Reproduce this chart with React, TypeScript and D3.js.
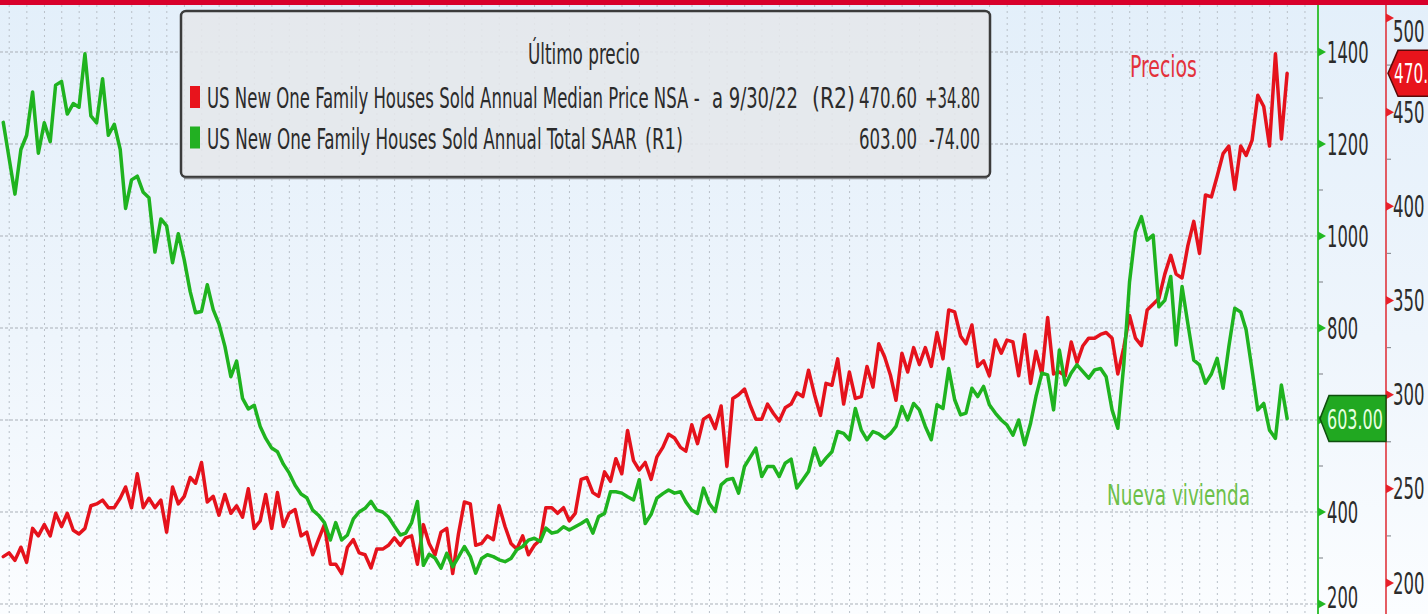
import React, { useEffect } from 'react';
import * as d3 from 'd3';

// monthly series, May 2004 .. Sep 2022 (month-end dates)
const startYear = 2004;
const startMonth = 4; // May (0-based)

// US New One Family Houses Sold Annual Total SAAR (R1), thousands
const sales = [
  1247, 1170, 1091, 1188, 1219, 1313, 1180, 1246, 1205, 1328, 1336, 1265,
  1288, 1280, 1396, 1261, 1246, 1342, 1219, 1243, 1188, 1060, 1122, 1130,
  1095, 1083, 965, 1037, 1022, 942, 1005, 948, 879, 833, 836, 894,
  840, 809, 760, 694, 728, 647, 624, 632, 586, 560, 539, 531,
  504, 485, 458, 439, 431, 404, 393, 377, 339, 377, 339, 350,
  385, 400, 408, 423, 404, 400, 389, 369, 350, 354, 377, 423,
  284, 308, 300, 278, 310, 281, 302, 325, 303, 267, 299, 307,
  303, 296, 292, 299, 318, 325, 339, 343, 336, 365, 354, 357,
  368, 361, 368, 375, 383, 354, 390, 397, 444, 444, 441, 433,
  426, 470, 375, 395, 430, 440, 448, 441, 444, 422, 404, 397,
  452, 419, 401, 459, 470, 473, 441, 499, 520, 539, 477, 499,
  499, 477, 506, 515, 452, 470, 488, 539, 502, 517, 531, 575,
  571, 557, 625, 578, 557, 575, 570, 560, 571, 586, 629, 600,
  636, 622, 586, 557, 633, 625, 712, 644, 611, 615, 669, 651,
  673, 633, 615, 600, 589, 567, 600, 546, 593, 651, 702, 698,
  622, 752, 676, 702, 720, 705, 691, 709, 712, 694, 622, 582,
  720, 900, 1009, 1042, 991, 1002, 846, 860, 912, 763, 890, 810,
  730, 720, 680, 700, 734, 669, 760, 843, 835, 796, 709, 622,
  636, 578, 560, 676, 603,
];

// US New One Family Houses Sold Annual Median Price NSA (R2), thousands
const prices = [
  214, 216, 212, 219, 211, 229, 225, 231, 225, 237, 230, 237,
  228, 226, 229, 241, 242, 244, 240, 240, 245, 251, 240, 258,
  240, 245, 240, 244, 227, 251, 242, 246, 256, 253, 264, 243,
  246, 236, 247, 237, 241, 235, 250, 229, 233, 247, 229, 248,
  230, 237, 239, 225, 227, 215, 223, 231, 210, 210, 205, 219,
  223, 216, 215, 208, 218, 218, 220, 224, 220, 224, 225, 210,
  231, 221, 215, 227, 229, 205, 226, 243, 242, 220, 221, 225,
  223, 241, 230, 221, 218, 225, 215, 220, 223, 240, 240, 237,
  240, 233, 237, 255, 256, 248, 246, 259, 254, 266, 258, 281,
  265, 260, 264, 255, 267, 272, 279, 277, 272, 270, 284, 274,
  287, 289, 282, 294, 262, 298, 300, 303, 294, 287, 287, 295,
  290, 286, 293, 295, 301, 299, 313, 300, 289, 306, 305, 319,
  295, 312, 298, 299, 315, 304, 327, 320, 310, 297, 322, 312,
  325, 316, 325, 315, 333, 319, 345, 344, 331, 327, 337, 315,
  318, 310, 329, 322, 329, 328, 310, 332, 306, 323, 311, 341,
  311, 312, 310, 328, 317, 326, 330, 330, 332, 333, 330, 311,
  325, 342, 330, 326, 345, 348, 351, 364, 374, 364, 362, 379,
  392, 375, 406, 405, 416, 428, 432, 409, 432, 427, 435, 459,
  453, 432, 481, 435.8, 470.6,
];

const salesTicks = [200, 400, 600, 800, 1000, 1200, 1400];
const salesMinor = [300, 500, 700, 900, 1100, 1300];
const priceTicks = [200, 250, 300, 350, 400, 450, 500];
const priceMinor = [225, 275, 325, 375, 425, 475];

const legendRows = [
  { color: '#e8141c', name: 'US New One Family Houses Sold Annual Median Price NSA -', nameLen: 493, extra: 'a 9/30/22', axis: '(R2)', axisX: 812, axisLen: 43, last: '470.60', chg: '+34.80', chgX: 925, chgLen: 55 },
  { color: '#22b022', name: 'US New One Family Houses Sold Annual Total SAAR', nameLen: 430, extra: '', axis: '(R1)', axisX: 645, axisLen: 38, last: '603.00', chg: '-74.00', chgX: 929, chgLen: 51 },
];

const W = 1428;
const H = 614;
const plotRight = 1318;
const redAxisX = 1386;
const font = "'DejaVu Sans Condensed', 'Liberation Sans Narrow', 'Liberation Sans', Arial, sans-serif";

const dates = sales.map((_, i) => new Date(startYear, startMonth + 1 + i, 0));

let ctx: CanvasRenderingContext2D | null = null;
function measure(text: string, size: number) {
  if (!ctx) ctx = document.createElement('canvas').getContext('2d');
  if (!ctx) return text.length * size * 0.5;
  ctx.font = `${size}px ${font}`;
  return ctx.measureText(text).width;
}

// text squeezed horizontally to a target width (condensed terminal font look)
const T = ({ x, y, len, size = 29, fill = '#2b2b2b', children }: any) => {
  const s = String(children);
  const sx = len / measure(s, size);
  return (
    <text transform={`translate(${x},${y}) scale(${sx},1)`} fontSize={size} fill={fill} fontFamily={font}>{s}</text>
  );
};

export default function App() {
  useEffect(() => {
    document.body.style.margin = '0';
    document.body.style.overflow = 'hidden';
  }, []);

  const x = d3.scaleTime()
    .domain([new Date(2004, 4, 14), new Date(2023, 2, 10)])
    .range([0, plotRight]);
  const ySales = d3.scaleLinear().domain([200, 1400]).range([604, 52]);
  const yPrice = d3.scaleLinear().domain([200, 500]).range([583, 18]);

  const salesLine = d3.line<number>()
    .x((_, i) => x(dates[i]))
    .y(d => ySales(d));
  const priceLine = d3.line<number>()
    .x((_, i) => x(dates[i]))
    .y(d => yPrice(d));

  const gridDates = x.ticks(d3.timeMonth.every(3) as any);

  const lastSales = sales[sales.length - 1];
  const lastPrice = prices[prices.length - 1];
  const gy = ySales(lastSales);
  const ry = yPrice(lastPrice);

  return (
    <svg width={W} height={H} style={{ position: 'absolute', left: 0, top: 0, display: 'block' }}>
      <defs>
        <linearGradient id="bg" x1="0" y1="0" x2="0" y2="1">
          <stop offset="0" stopColor="#e3effa" />
          <stop offset="0.55" stopColor="#eef5fc" />
          <stop offset="1" stopColor="#fbfdff" />
        </linearGradient>
        <clipPath id="plot">
          <rect x={0} y={5} width={plotRight} height={H - 5} />
        </clipPath>
      </defs>
      <rect x={0} y={0} width={W} height={H} fill="url(#bg)" />

      {/* grid */}
      <g clipPath="url(#plot)">
        {gridDates.map((d, i) => (
          <line key={'v' + i} x1={x(d)} x2={x(d)} y1={5} y2={H}
            stroke="#b9c0c8" strokeWidth={1} strokeDasharray="2,4" />
        ))}
        {salesTicks.map(t => (
          <line key={'h' + t} x1={0} x2={plotRight} y1={ySales(t)} y2={ySales(t)}
            stroke="#a9afb7" strokeWidth={1} strokeDasharray="3,2" />
        ))}
      </g>

      {/* legend box */}
      <rect x={181} y={11} width={809} height={166} rx={5} fill="#e5e7ea" fillOpacity={0.88}
        stroke="#3b3b3b" strokeWidth={2.5} />
      <line x1={184} x2={987} y1={178.5} y2={178.5} stroke="#8a8d91" strokeWidth={1.5} />
      <T x={528} y={64} len={112}>Último precio</T>
      {legendRows.map((r, i) => {
        const by = 108 + i * 40.5;
        return (
          <g key={r.axis}>
            <rect x={190} y={by - 22} width={10} height={22} fill={r.color} />
            <T x={207} y={by} len={r.nameLen}>{r.name}</T>
            {r.extra && <T x={712} y={by} len={86}>{r.extra}</T>}
            <T x={r.axisX} y={by} len={r.axisLen}>{r.axis}</T>
            <T x={859} y={by} len={58}>{r.last}</T>
            <T x={r.chgX} y={by} len={r.chgLen}>{r.chg}</T>
          </g>
        );
      })}

      {/* series */}
      <g clipPath="url(#plot)" fill="none" strokeLinejoin="round" strokeLinecap="round">
        <path d={priceLine(prices) || ''} stroke="#e5121c" strokeWidth={3.5} />
        <path d={salesLine(sales) || ''} stroke="#1fb31f" strokeWidth={3.5} />
      </g>

      {/* annotations */}
      <T x={1130} y={77} len={67} size={30} fill="#e3323b">Precios</T>
      <T x={1107} y={505} len={143} size={29} fill="#6cc049">Nueva vivienda</T>

      {/* green axis (R1) */}
      <line x1={plotRight} x2={plotRight} y1={5} y2={H} stroke="#3cc23c" strokeWidth={2} />
      {salesMinor.map(t => (
        <line key={'gm' + t} x1={plotRight + 1} x2={plotRight + 5} y1={ySales(t)} y2={ySales(t)} stroke="#8c9096" strokeWidth={1.2} />
      ))}
      {salesTicks.map(t => (
        <g key={'gt' + t}>
          <path d={`M${plotRight},${ySales(t) - 4.5}L${plotRight + 8},${ySales(t)}L${plotRight},${ySales(t) + 4.5}Z`} fill="#22b822" />
          {Math.abs(ySales(t) - gy) > 30 && (
            <T x={plotRight + 9} y={Math.min(ySales(t) + 10.5, 608)} len={String(t).length * 10.4} size={30}>{t}</T>
          )}
        </g>
      ))}

      {/* red axis (R2) */}
      <line x1={redAxisX} x2={redAxisX} y1={5} y2={H} stroke="#e0353d" strokeWidth={1.6} />
      {priceMinor.map(t => (
        <line key={'rm' + t} x1={redAxisX + 1} x2={redAxisX + 5} y1={yPrice(t)} y2={yPrice(t)} stroke="#8c9096" strokeWidth={1.2} />
      ))}
      {priceTicks.map(t => (
        <g key={'rt' + t}>
          <path d={`M${redAxisX},${yPrice(t) - 4.5}L${redAxisX + 8},${yPrice(t)}L${redAxisX},${yPrice(t) + 4.5}Z`} fill="#e8202a" />
          <T x={redAxisX + 7} y={Math.max(yPrice(t), 31) + 10.5} len={String(t).length * 10.5} size={30}>{t}</T>
        </g>
      ))}

      {/* last value tags */}
      <path d={`M${plotRight + 2},${gy}L${plotRight + 11},${gy - 23}L${redAxisX},${gy - 23}L${redAxisX},${gy + 23}L${plotRight + 11},${gy + 23}Z`}
        fill="#21a821" stroke="#0f4f0f" strokeWidth={1.5} />
      <T x={plotRight + 9} y={gy + 10} len={56} size={27} fill="#e6ffe0">{lastSales.toFixed(2)}</T>

      <path d={`M${redAxisX + 2},${ry}L${redAxisX + 12},${ry - 23}L${W + 5},${ry - 23}L${W + 5},${ry + 23}L${redAxisX + 12},${ry + 23}Z`}
        fill="#e8141c" stroke="#5a0a0a" strokeWidth={1.5} />
      <T x={redAxisX + 8} y={ry + 10} len={34} size={27} fill="#ffffff">470.</T>

      {/* top bar */}
      <rect x={0} y={0} width={W} height={5} fill="#d8002b" />
    </svg>
  );
}
